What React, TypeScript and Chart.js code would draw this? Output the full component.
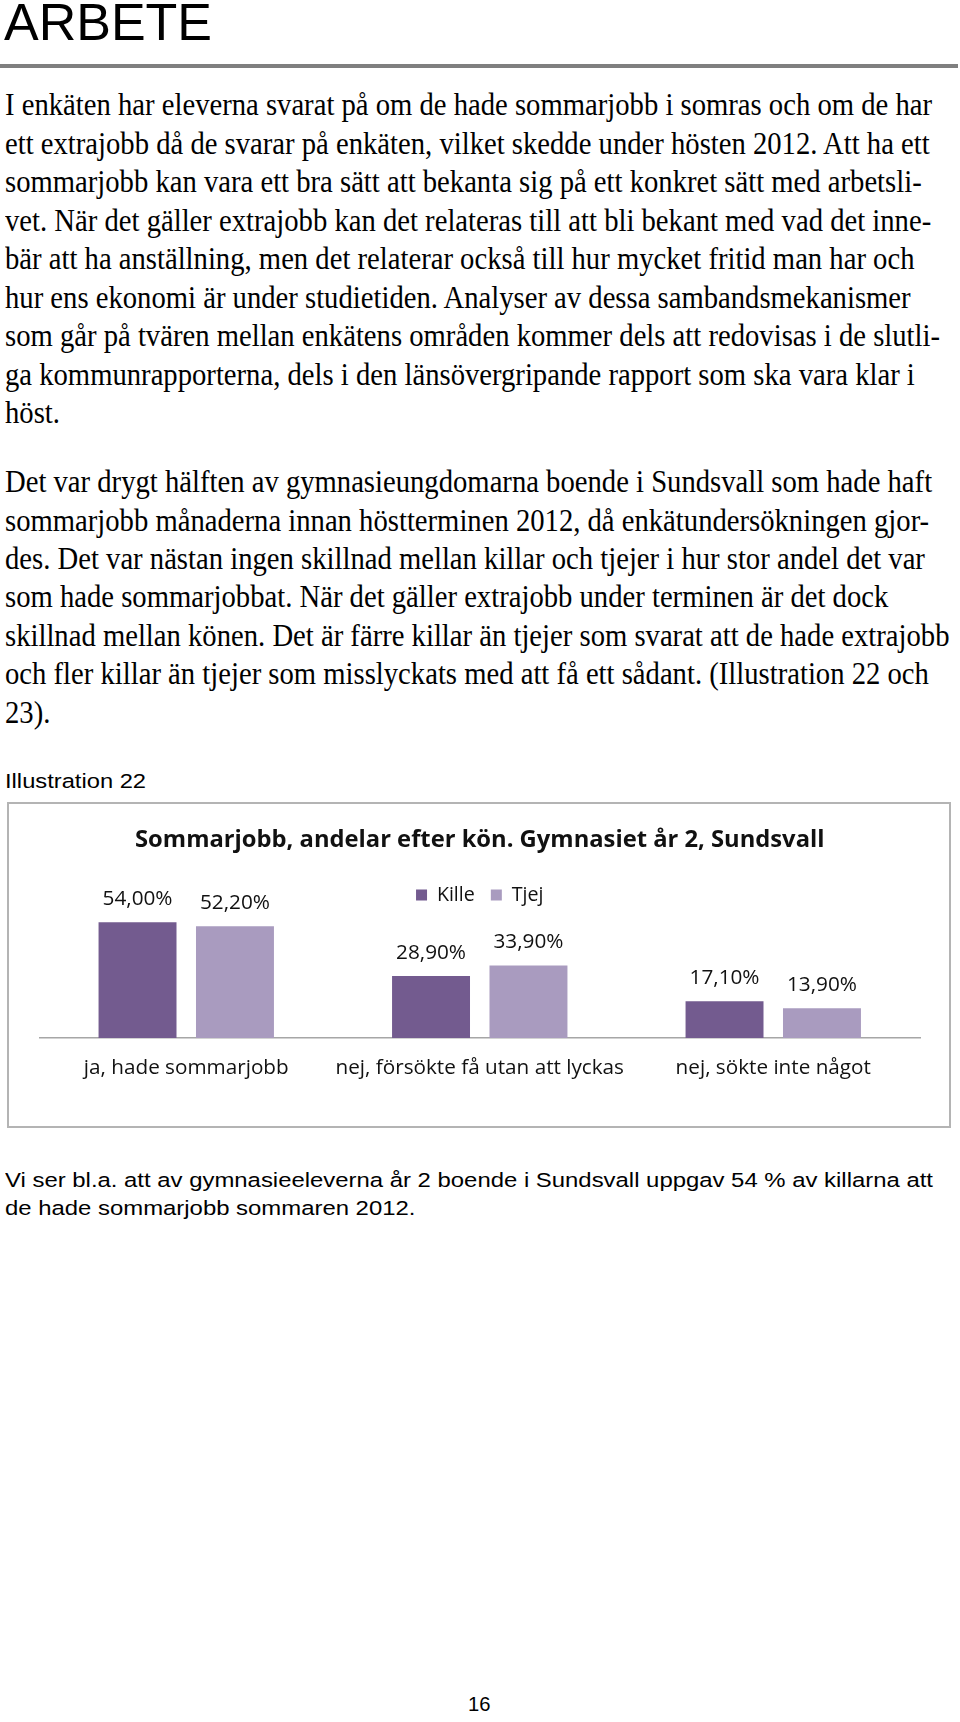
import React, { useEffect, useMemo, useRef } from 'react';
import { Chart, registerables } from 'chart.js';

Chart.register(...registerables);

// ---------- data ----------
const pageTitle = 'ARBETE';

const paragraph1 = [
  'I enkäten har eleverna svarat på om de hade sommarjobb i somras och om de har',
  'ett extrajobb då de svarar på enkäten, vilket skedde under hösten 2012. Att ha ett',
  'sommarjobb kan vara ett bra sätt att bekanta sig på ett konkret sätt med arbetsli-',
  'vet. När det gäller extrajobb kan det relateras till att bli bekant med vad det inne-',
  'bär att ha anställning, men det relaterar också till hur mycket fritid man har och',
  'hur ens ekonomi är under studietiden. Analyser av dessa sambandsmekanismer',
  'som går på tvären mellan enkätens områden kommer dels att redovisas i de slutli-',
  'ga kommunrapporterna, dels i den länsövergripande rapport som ska vara klar i',
  'höst.',
];

const paragraph2 = [
  'Det var drygt hälften av gymnasieungdomarna boende i Sundsvall som hade haft',
  'sommarjobb månaderna innan höstterminen 2012, då enkätundersökningen gjor-',
  'des. Det var nästan ingen skillnad mellan killar och tjejer i hur stor andel det var',
  'som hade sommarjobbat. När det gäller extrajobb under terminen är det dock',
  'skillnad mellan könen. Det är färre killar än tjejer som svarat att de hade extrajobb',
  'och fler killar än tjejer som misslyckats med att få ett sådant. (Illustration 22 och',
  '23).',
];

const illustrationLabel = 'Illustration 22';

const noteLines = [
  'Vi ser bl.a. att av gymnasieeleverna år 2 boende i Sundsvall uppgav 54 % av killarna att',
  'de hade sommarjobb sommaren 2012.',
];

const pageNumber = '16';

const chartTitle = 'Sommarjobb, andelar efter kön. Gymnasiet år 2, Sundsvall';
const categories = ['ja, hade sommarjobb', 'nej, försökte få utan att lyckas', 'nej, sökte inte något'];
const seriesNames = ['Kille', 'Tjej'];
const killeValues = [54.0, 28.9, 17.1];
const tjejValues = [52.2, 33.9, 13.9];

// ---------- styling / layout ----------
const SERIF = "'Liberation Serif', 'Times New Roman', serif";
const SANS = "'Liberation Sans', Arial, sans-serif";
const CHART_FONT = "'Open Sans', sans-serif";
const KILLE_COLOR = '#735B8F';
const TJEJ_COLOR = '#A99BBF';

const measureCtx: CanvasRenderingContext2D | null =
  typeof document !== 'undefined' ? document.createElement('canvas').getContext('2d') : null;

function textWidth(text: string, font: string): number {
  if (!measureCtx) return text.length * 10;
  measureCtx.font = font;
  return measureCtx.measureText(text).width;
}

function fitSize(text: string, weight: string, family: string, target: number): number {
  return (100 * target) / textWidth(text, `${weight} 100px ${family}`);
}

function fmt(v: number): string {
  return v.toFixed(2).replace('.', ',') + '%';
}

// font vertical metrics (ascent, descent) in em
const SERIF_METRICS = { asc: 0.891, desc: 0.216 };
const SANS_METRICS = { asc: 0.905, desc: 0.212 };

type LineProps = {
  text: string;
  x: number;
  baseline: number;
  size: number;
  family: string;
  metrics: { asc: number; desc: number };
  scale: number;
  lh?: number;
};

function TextLine({ text, x, baseline, size, family, metrics, scale, lh = 1 }: LineProps) {
  const lineH = lh * size;
  const baselineOffset = lineH / 2 + ((metrics.asc - metrics.desc) / 2) * size;
  return (
    <div
      style={{
        position: 'absolute',
        left: x,
        top: baseline - baselineOffset,
        fontFamily: family,
        fontSize: size,
        lineHeight: `${lineH}px`,
        whiteSpace: 'pre',
        color: '#000',
        transform: `scaleX(${scale})`,
        transformOrigin: '0 0',
      }}
    >
      {text}
    </div>
  );
}

export default function App() {
  const canvasRef = useRef<HTMLCanvasElement>(null);

  const scales = useMemo(() => {
    const timesFs = 31.7;
    const tf = `${timesFs}px ${SERIF}`;
    const s1 = 926 / textWidth(paragraph1[0], tf);
    const s2 = 945.5 / textWidth(paragraph2[4], tf);
    const sansFs = 20.5;
    const sf = `${sansFs}px ${SANS}`;
    const sNote = 928 / textWidth(noteLines[0], sf);
    const sIll = 140 / textWidth(illustrationLabel, sf);
    const sNum = 22.5 / textWidth(pageNumber, sf);
    const titleFs = 51;
    const sTitle = 208 / textWidth(pageTitle, `${titleFs}px ${SANS}`);
    return { timesFs, times: (s1 + s2) / 2, sansFs, note: sNote, ill: (sIll + sNote) / 2, num: sNum, titleFs, title: sTitle };
  }, []);

  useEffect(() => {
    const canvas = canvasRef.current;
    if (!canvas) return;

    const H = 322;
    const plotBottom = 234;
    const titleCenter = 36;
    const legendCenter = 91;
    const catBaseline = 272;

    const titleFs = fitSize(chartTitle, 'bold', CHART_FONT, 690);
    const catFs = fitSize(categories[0], 'normal', CHART_FONT, 205);
    const labelFs = fitSize(fmt(killeValues[0]), 'normal', CHART_FONT, 70);
    const legendFs = fitSize(seriesNames[0], 'normal', CHART_FONT, 38);

    const legendPad = 16;
    const titleTop = titleCenter - 0.6 * titleFs;
    const legendTop = legendCenter - legendPad - legendFs / 2;
    const titleBottom = Math.max(0, legendTop - (titleTop + 1.2 * titleFs));
    const catPad = catBaseline - 0.388 * catFs - plotBottom - 0.6 * catFs;
    // Chart.js reserves the tick padding twice in the axis height
    const bottomPad = H - plotBottom - (2 * catPad + 1.2 * catFs);

    const valueLabels = {
      id: 'valueLabels',
      afterDatasetsDraw(chart: any) {
        const ctx = chart.ctx;
        ctx.save();
        ctx.font = `${labelFs}px ${CHART_FONT}`;
        ctx.fillStyle = '#111';
        ctx.textAlign = 'center';
        ctx.textBaseline = 'alphabetic';
        chart.data.datasets.forEach((ds: any, i: number) => {
          chart.getDatasetMeta(i).data.forEach((bar: any, j: number) => {
            ctx.fillText(fmt(ds.data[j]), bar.x, bar.y - 17.5);
          });
        });
        ctx.restore();
      },
    };

    const chart = new Chart(canvas, {
      type: 'bar',
      data: {
        labels: categories,
        datasets: [
          { label: seriesNames[0], data: killeValues, backgroundColor: KILLE_COLOR, borderWidth: 0 },
          { label: seriesNames[1], data: tjejValues, backgroundColor: TJEJ_COLOR, borderWidth: 0 },
        ],
      },
      options: {
        responsive: false,
        animation: false,
        devicePixelRatio: 1,
        layout: { padding: { left: 30.5, right: 29, top: 0, bottom: bottomPad } },
        datasets: { bar: { barPercentage: 0.8, categoryPercentage: 0.664 } },
        plugins: {
          tooltip: { enabled: false },
          title: {
            display: true,
            text: chartTitle,
            color: '#111',
            font: { family: CHART_FONT, size: titleFs, weight: 'bold', lineHeight: 1.2 },
            padding: { top: titleTop, bottom: titleBottom },
          },
          legend: {
            display: true,
            position: 'top',
            labels: {
              boxWidth: 11,
              boxHeight: 11,
              padding: legendPad,
              color: '#111',
              font: { family: CHART_FONT, size: legendFs },
            },
          },
        },
        scales: {
          x: {
            grid: { display: false, drawTicks: false },
            border: { display: true, color: '#a6a6a6', width: 1.5 },
            ticks: {
              autoSkip: false,
              maxRotation: 0,
              minRotation: 0,
              padding: catPad,
              color: '#111',
              font: { family: CHART_FONT, size: catFs, lineHeight: 1.2 },
            },
          },
          y: { display: false, min: 0, max: 57.5 },
        },
      },
      plugins: [valueLabels],
    } as any);

    return () => chart.destroy();
  }, []);

  const p1Base = 116;
  const p2Base = 492.7;
  const pitch = 38.44;

  return (
    <div style={{ position: 'absolute', left: 0, top: 0, width: 960, height: 1722, overflow: 'hidden', background: '#fff' }}>
      <TextLine text={pageTitle} x={3.5} baseline={41} size={scales.titleFs} family={SANS} metrics={SANS_METRICS} scale={scales.title} lh={0.74} />
      <div style={{ position: 'absolute', left: 0, top: 64, width: 958, height: 3.5, background: '#7f7f7f' }} />

      {paragraph1.map((t, i) => (
        <TextLine key={'p1' + i} text={t} x={5} baseline={p1Base + i * pitch} size={scales.timesFs} family={SERIF} metrics={SERIF_METRICS} scale={scales.times} />
      ))}
      {paragraph2.map((t, i) => (
        <TextLine key={'p2' + i} text={t} x={5} baseline={p2Base + i * pitch} size={scales.timesFs} family={SERIF} metrics={SERIF_METRICS} scale={scales.times} />
      ))}

      <TextLine text={illustrationLabel} x={5} baseline={788.5} size={scales.sansFs} family={SANS} metrics={SANS_METRICS} scale={scales.ill} />

      <div
        style={{
          position: 'absolute',
          left: 7,
          top: 802,
          width: 944,
          height: 326,
          border: '2px solid #b4b4b4',
          boxSizing: 'border-box',
        }}
      />
      <canvas
        ref={canvasRef}
        width={940}
        height={322}
        style={{ position: 'absolute', left: 9, top: 804, width: 940, height: 322 }}
      />

      {noteLines.map((t, i) => (
        <TextLine key={'n' + i} text={t} x={5} baseline={1187 + i * 28} size={scales.sansFs} family={SANS} metrics={SANS_METRICS} scale={scales.note} />
      ))}

      <TextLine text={pageNumber} x={479 - 11.25} baseline={1711.5} size={scales.sansFs} family={SANS} metrics={SANS_METRICS} scale={scales.num} />
    </div>
  );
}
